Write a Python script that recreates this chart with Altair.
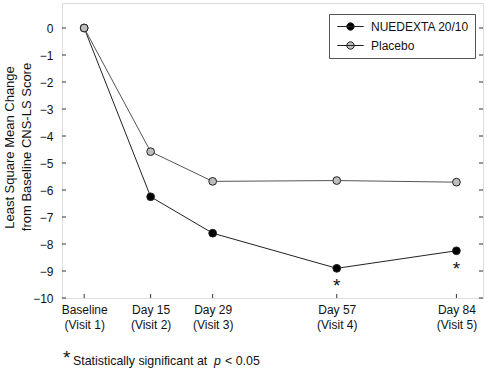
import altair as alt
import pandas as pd

# ---- data ----
days = [0, 15, 29, 57, 84]
label_top = ["Baseline", "Day 15", "Day 29", "Day 57", "Day 84"]
label_bottom = ["(Visit 1)", "(Visit 2)", "(Visit 3)", "(Visit 4)", "(Visit 5)"]
series_names = ["NUEDEXTA 20/10", "Placebo"]
nuedexta = [0, -6.25, -7.6, -8.9, -8.25]
placebo = [0, -4.58, -5.68, -5.65, -5.71]
significant = [False, False, False, True, True]
y_ticks = list(range(-10, 1))
y_title = ["Least Square Mean Change", "from Baseline CNS-LS Score"]

FONT = "Liberation Sans"
W, H = 421, 295

rows = []
for d, v, s in zip(days, nuedexta, significant):
    rows.append({"day": d, "value": v, "series": series_names[0], "sig": s})
for d, v in zip(days, placebo):
    rows.append({"day": d, "value": v, "series": series_names[1], "sig": False})
df = pd.DataFrame(rows)

label_arr = "[" + ",".join(
    "['%s','%s']" % (a, b) for a, b in zip(label_top, label_bottom)
) + "]"
day_arr = "[" + ",".join(str(d) for d in days) + "]"
label_expr = f"{label_arr}[indexof({day_arr}, datum.value)]"

x_scale = alt.Scale(domain=[-5, 90], nice=False, zero=False)
y_scale = alt.Scale(domain=[-10, 0.926], nice=False, zero=False)

x_axis = alt.Axis(values=days, labelExpr=label_expr, title=None, tickSize=0,
                  labelPadding=6, labelBaseline="top", labelLineHeight=15,
                  labelOverlap=False, labelFlush=False, grid=False, domain=False,
                  labelFontSize=12, labelFont=FONT, labelColor="#111")
y_axis = alt.Axis(values=y_ticks, title=y_title[0],
                  tickSize=0, labelPadding=9, grid=False, domain=False,
                  labelOverlap=False, labelFlush=False,
                  labelFontSize=12, labelFont=FONT, labelColor="#111",
                  titleFont=FONT, titleFontSize=13, titleFontWeight="normal",
                  titleColor="#111", titleAngle=270, titleX=-59, titleY=144,
                  titleAlign="center", titleBaseline="top")
x_enc = alt.X("day:Q", scale=x_scale, axis=x_axis)
y_enc = alt.Y("value:Q", scale=y_scale, axis=y_axis)

base = alt.Chart(df)

line_nued = base.transform_filter(alt.datum.series == series_names[0]).mark_line(
    strokeWidth=1, color="#222222").encode(x=x_enc, y=y_enc)
line_plac = base.transform_filter(alt.datum.series == series_names[1]).mark_line(
    strokeWidth=1, color="#555555").encode(x=x_enc, y=y_enc)

legend_path = "M-2.2,0 L2.2,0 M-0.62,0 A0.62,0.62 0 1,1 0.62,0 A0.62,0.62 0 1,1 -0.62,0 Z"

points = base.mark_point(shape="circle", filled=True, size=60, stroke="#222222", strokeWidth=1, opacity=1).encode(
    x=x_enc, y=y_enc,
    fill=alt.Fill("series:N", scale=alt.Scale(domain=series_names, range=["#000000", "#bdbdbd"]),
                  legend=alt.Legend(title=None, orient="none", legendX=267, legendY=11,
                                    symbolType=legend_path, symbolSize=144,
                                    symbolStrokeColor="#222222", symbolStrokeWidth=1,
                                    symbolOffset=9, labelOffset=14, padding=6, rowPadding=6,
                                    labelFont=FONT, labelFontSize=12, labelColor="#111",
                                    strokeColor="#555555", fillColor="white")),
)

stars = base.transform_filter("datum.sig").mark_text(
    text="*", fontSize=19, font=FONT, dy=18, baseline="middle", color="#111"
).encode(x=x_enc, y=y_enc)

tick_df = pd.DataFrame({"value": y_ticks})
left_ticks = alt.Chart(tick_df).mark_rule(color="#333", strokeWidth=1).encode(
    y=y_enc, x=alt.value(0), x2=alt.value(4))
right_ticks = alt.Chart(tick_df).mark_rule(color="#333", strokeWidth=1).encode(
    y=y_enc, x=alt.value(W - 4), x2=alt.value(W))
day_df = pd.DataFrame({"day": days})
bottom_ticks = alt.Chart(day_df).mark_rule(color="#333", strokeWidth=1).encode(
    x=x_enc, y=alt.value(H), y2=alt.value(H - 4))

note_df = pd.DataFrame({"t": ["x"]})
title_line2 = alt.Chart(note_df).mark_text(text=y_title[1], fontSize=13, font=FONT, angle=270,
                                           align="center", baseline="top", color="#111").encode(
    x=alt.value(-41), y=alt.value(144))
note_star = alt.Chart(note_df).mark_text(text="*", fontSize=19, font=FONT, align="left",
                                         baseline="middle", color="#111").encode(
    x=alt.value(1), y=alt.value(355))
note_a = alt.Chart(note_df).mark_text(text="Statistically significant at ", fontSize=12.4, font=FONT,
                                      align="left", baseline="middle", color="#111").encode(
    x=alt.value(11), y=alt.value(358))
note_p = alt.Chart(note_df).mark_text(text="p", fontSize=12.4, font=FONT, fontStyle="italic",
                                      align="left", baseline="middle", color="#111").encode(
    x=alt.value(152), y=alt.value(358))
note_b = alt.Chart(note_df).mark_text(text="< 0.05", fontSize=12.4, font=FONT,
                                      align="left", baseline="middle", color="#111").encode(
    x=alt.value(163), y=alt.value(358))

chart = alt.layer(
    line_nued, line_plac, points, stars, left_ticks, right_ticks, bottom_ticks,
    title_line2, note_star, note_a, note_p, note_b,
).properties(
    width=W, height=H,
    padding={"left": 62, "top": 3, "right": 6, "bottom": 79},
    autosize="none",
).configure_view(stroke="#333333", strokeWidth=1).configure(background="white")

chart.save("out.html", embed_options={"renderer": "svg", "actions": False})
